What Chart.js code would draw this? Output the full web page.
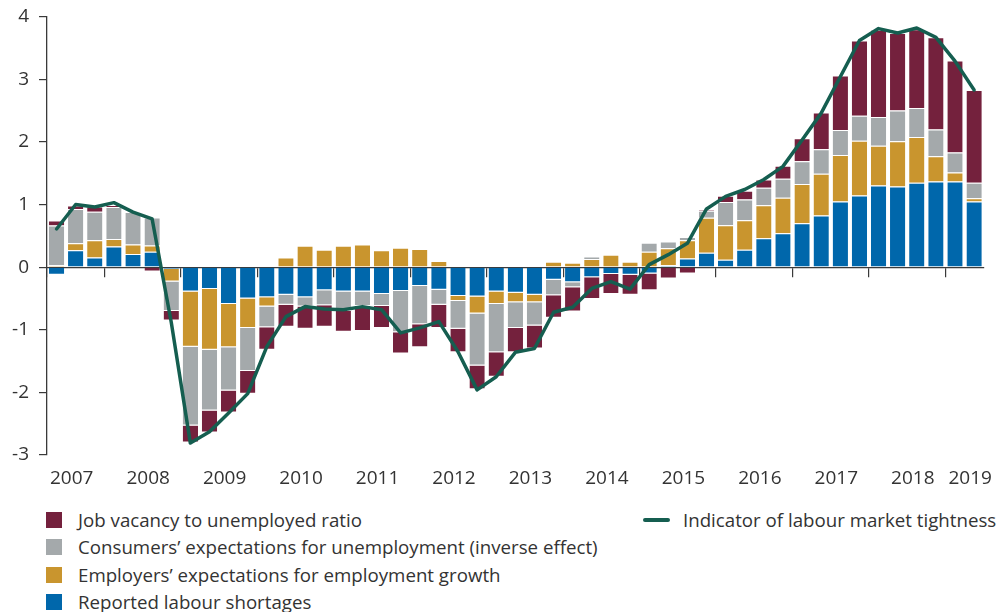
<!DOCTYPE html>
<html>
<head>
<meta charset="utf-8">
<script src="https://cdn.jsdelivr.net/npm/chart.js@4"></script>
<style>
  body { margin: 0; background: #fff; }
  #wrap { position: relative; width: 1008px; height: 612px; font-family: "Open Sans", sans-serif; color: #333; }
  #box { position: absolute; left: 0; top: 0; width: 1008px; height: 495px; }
  .item { position: absolute; font-size: 18.7px; line-height: 22px; white-space: nowrap; }
  .sw { position: absolute; width: 16px; height: 16px; }
  .ln { position: absolute; width: 27px; height: 4px; border-radius: 2px; }
</style>
</head>
<body>
<div id="wrap">
  <div id="box"><canvas id="chart"></canvas></div>
  <div id="legend"></div>
</div>
<script>
// quarters 2007Q2 .. 2019Q2
const quarters = [];
for (let y = 2007; y <= 2019; y++) {
    for (let q = 1; q <= 4; q++) {
        if ((y === 2007 && q === 1) || (y === 2019 && q > 2)) continue;
        quarters.push(y + "Q" + q);
    }
}

const shortages = [-0.12, 0.27, 0.155, 0.33, 0.21, 0.245, -0.03, -0.39, -0.35, -0.59, -0.50, -0.48, -0.44,
    -0.48, -0.37, -0.39, -0.39, -0.43, -0.38, -0.30, -0.36, -0.46, -0.47, -0.39, -0.41, -0.44,
    -0.20, -0.24, -0.16, -0.11, -0.12, -0.10, 0.03, 0.14, 0.23, 0.12, 0.28, 0.46, 0.54, 0.70,
    0.825, 1.05, 1.145, 1.305, 1.29, 1.35, 1.37, 1.37, 1.05];

const employers = [0.03, 0.11, 0.275, 0.12, 0.15, 0.10, -0.20, -0.88, -0.97, -0.69, -0.47, -0.15, 0.155,
    0.34, 0.28, 0.34, 0.36, 0.27, 0.31, 0.29, 0.10, -0.08, -0.27, -0.20, -0.15, -0.12,
    0.085, 0.07, 0.13, 0.20, 0.085, 0.245, 0.27, 0.29, 0.56, 0.55, 0.47, 0.53, 0.57, 0.63,
    0.665, 0.74, 0.875, 0.635, 0.72, 0.73, 0.40, 0.14, 0.05];

const consumers = [0.635, 0.55, 0.455, 0.51, 0.52, 0.45, -0.47, -1.26, -0.97, -0.69, -0.69, -0.33, -0.16,
    -0.15, -0.24, -0.31, -0.23, -0.19, -0.66, -0.61, -0.24, -0.445, -0.83, -0.77, -0.41, -0.37,
    -0.25, -0.08, 0.04, 0, 0, 0.145, 0.11, 0.05, 0.11, 0.37, 0.33, 0.28, 0.30, 0.36,
    0.395, 0.40, 0.40, 0.46, 0.49, 0.46, 0.43, 0.32, 0.25];

const vacancies = [0.08, 0.055, 0.085, 0.03, 0, -0.07, -0.15, -0.27, -0.35, -0.35, -0.36, -0.36, -0.35,
    -0.355, -0.34, -0.33, -0.40, -0.35, -0.34, -0.37, -0.37, -0.375, -0.38, -0.39, -0.39, -0.37,
    -0.36, -0.39, -0.35, -0.32, -0.32, -0.27, -0.18, -0.10, 0.02, 0.10, 0.14, 0.13, 0.21, 0.37,
    0.585, 0.87, 1.20, 1.39, 1.24, 1.26, 1.47, 1.47, 1.48];

const tightness = [0.61, 1.0, 0.96, 1.03, 0.88, 0.77, -0.88, -2.81, -2.63, -2.33, -2.02, -1.27, -0.79,
    -0.63, -0.67, -0.68, -0.63, -0.68, -1.05, -0.97, -0.87, -1.35, -1.96, -1.75, -1.36, -1.30,
    -0.72, -0.64, -0.34, -0.23, -0.35, 0.04, 0.20, 0.38, 0.93, 1.13, 1.24, 1.40, 1.61, 2.03,
    2.46, 3.04, 3.62, 3.81, 3.74, 3.82, 3.67, 3.29, 2.83];

const C = { maroon: "#74213d", gray: "#a4a9ab", gold: "#c9952e", blue: "#0067ab", green: "#155e50", axis: "#3a3a3a" };

// year label goes under the 3rd quarter, or the last one if the year is cut short
function yearLabel(i) {
    const [y, q] = quarters[i].split("Q");
    const next = quarters[i + 1];
    if (q === "3") return y;
    if (!next && !quarters.includes(y + "Q3")) return y;
    return "";
}

function barSet(label, data, color) {
    return {
        type: "bar", label, data, backgroundColor: color, stack: "s",
        borderColor: "#ffffff", borderWidth: { top: 1, bottom: 1, left: 0, right: 0 },
        borderSkipped: "start", barPercentage: 0.8, categoryPercentage: 1, order: 2
    };
}

const chart = new Chart(document.getElementById("chart"), {
    data: {
        labels: quarters,
        datasets: [
            {
                type: "line", label: "Indicator of labour market tightness", data: tightness,
                borderColor: C.green, borderWidth: 3.5, pointRadius: 0, tension: 0,
                borderJoinStyle: "round", borderCapStyle: "round", stack: "line", order: 0
            },
            barSet("Reported labour shortages", shortages, C.blue),
            barSet("Employers’ expectations for employment growth", employers, C.gold),
            barSet("Consumers’ expectations for unemployment (inverse effect)", consumers, C.gray),
            barSet("Job vacancy to unemployed ratio", vacancies, C.maroon)
        ]
    },
    options: {
        responsive: true,
        maintainAspectRatio: false,
        animation: false,
        layout: { padding: { top: 16.7, right: 14, left: 0, bottom: 0 } },
        plugins: { legend: { display: false }, tooltip: { enabled: false } },
        scales: {
            x: {
                type: "category", stacked: true, offset: true,
                grid: { display: false, drawTicks: false },
                border: { display: false },
                ticks: {
                    autoSkip: false, maxRotation: 0, padding: 12, labelOffset: -4,
                    color: "#333", font: { family: "Open Sans", size: 19 },
                    callback: (v, i) => yearLabel(i)
                },
                afterFit: s => { s.height = 40; }
            },
            x2: {
                type: "category", offset: true, position: { y: 0 },
                grid: {
                    offset: true, drawOnChartArea: false, tickLength: 9, lineWidth: 1.2,
                    color: c => (c.index === 0 || c.index % 4 === 3 ? C.axis : "transparent")
                },
                border: { display: true, color: C.axis, width: 1.3 },
                ticks: { display: false }
            },
            y: {
                stacked: true, min: -3, max: 4,
                grid: { drawOnChartArea: false, tickLength: 8, color: C.axis, lineWidth: 1.2 },
                border: { display: true, color: C.axis, width: 1.3 },
                ticks: {
                    stepSize: 1, padding: 10, color: "#333",
                    font: { family: "Open Sans", size: 19 }
                },
                // fixed axis width; let the layout padding decide where the plot starts
                afterFit: s => { s.width = 47; s.paddingTop = 0; s.paddingBottom = 0; }
            }
        }
    }
});

// legend: bar series in a column (top of stack first), line item to the right
const legend = document.getElementById("legend");
const bars = chart.data.datasets.filter(d => d.type === "bar").reverse();
bars.forEach((d, i) => {
    const top = 512 + i * 27.3;
    legend.insertAdjacentHTML("beforeend",
        `<div class="sw" style="left:46px;top:${top}px;background:${d.backgroundColor}"></div>` +
        `<div class="item" style="left:78px;top:${top - 3}px">${d.label}</div>`);
});
chart.data.datasets.filter(d => d.type === "line").forEach(d => {
    legend.insertAdjacentHTML("beforeend",
        `<div class="ln" style="left:643px;top:518px;background:${d.borderColor}"></div>` +
        `<div class="item" style="left:683px;top:509px">${d.label}</div>`);
});
</script>
</body>
</html>
